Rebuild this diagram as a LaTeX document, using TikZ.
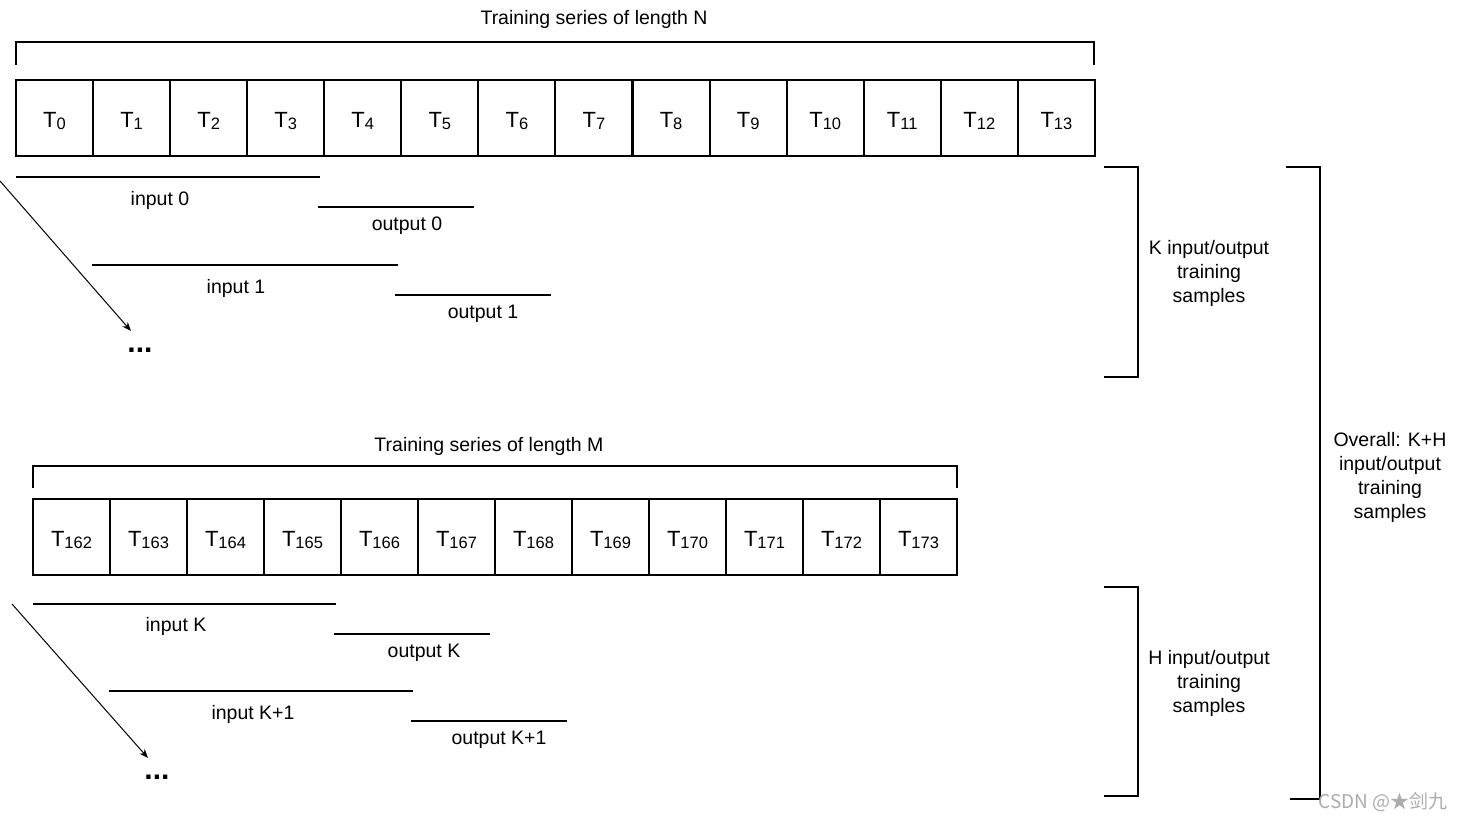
\documentclass[tikz,border=0pt]{standalone}
\usepackage{fontspec}
\setmainfont{Liberation Sans}
\newfontfamily\cjkfont{Noto Sans CJK SC}
\usetikzlibrary{arrows.meta}
\newcommand{\tlab}[1]{{\fontsize{22}{22}\selectfont T\raisebox{-1.5pt}{\fontsize{16.5}{16.5}\selectfont #1}}}
\begin{document}
\begin{tikzpicture}[x=1pt,y=-1pt,
  cell/.style={draw,line width=2pt,minimum width=77pt,minimum height=76pt,inner sep=0pt,outer sep=0pt,text height=21pt,text depth=1.5pt,anchor=north west},
  bar/.style={line width=2pt},
  brk/.style={line width=2pt},
  lab/.style={font=\fontsize{19.5}{23.8}\selectfont,inner sep=0pt,align=center},
  dots/.style={font=\fontsize{30}{30}\selectfont\bfseries,inner sep=0pt},
  arr/.style={line width=1pt,-{Stealth[length=9pt,width=7pt]}}]
\useasboundingbox (0,0) rectangle (1464,821);
% top series
\foreach \i in {0,...,13}{
  \node[cell] (a\i) at ({16+77.07*\i},80) {\tlab{\i}};
}
\node[lab] (titleN) at (594,19.5) {Training series of length N};
\draw[brk] (16,65) -- (16,42) -- (1094,42) -- (1094,65);
% samples top
\draw[bar] (16,177) -- (320,177);
\node[lab] (in0) at (160,200.5) {input 0};
\draw[bar] (318,207) -- (474,207);
\node[lab] (out0) at (407,225.5) {output 0};
\draw[bar] (92,265) -- (398,265);
\node[lab] (in1) at (236,288.5) {input 1};
\draw[bar] (395,295) -- (551,295);
\node[lab] (out1) at (483,313.5) {output 1};
\coordinate (s1) at (0,181);
\coordinate (e1) at (131,331);
\draw[arr] (s1) -- (e1);
\node[dots] (d1) at (140,350) {...};
% bottom series
\foreach \j [count=\k from 0] in {162,...,173}{
  \node[cell] (b\k) at ({33+77.0*\k},499) {\tlab{\j}};
}
\node[lab] (titleM) at (489,446.5) {Training series of length M};
\draw[brk] (33,488) -- (33,466) -- (957,466) -- (957,488);
\draw[bar] (33,604) -- (336,604);
\node[lab] (inK) at (176,626.5) {input K};
\draw[bar] (334,634) -- (490,634);
\node[lab] (outK) at (424,652.5) {output K};
\draw[bar] (109,691) -- (413,691);
\node[lab] (inK1) at (253,714.5) {input K+1};
\draw[bar] (411,721) -- (567,721);
\node[lab] (outK1) at (499,739.5) {output K+1};
\coordinate (s2) at (12,604);
\coordinate (e2) at (148,758);
\draw[arr] (s2) -- (e2);
\node[dots] (d2) at (157,777) {...};
% right brackets
\draw[brk] (1104,167) -- (1138,167) -- (1138,377) -- (1104,377);
\node[lab] (kl) at (1209,273.5) {K input/output\\training\\samples};
\draw[brk] (1104,587) -- (1138,587) -- (1138,796) -- (1104,796);
\node[lab] (hl) at (1209,683.5) {H input/output\\training\\samples};
\draw[brk] (1286,167) -- (1320,167) -- (1320,799) -- (1290,799);
\node[lab] (ol) at (1390,477.5) {Overall: K+H\\input/output\\training\\samples};
\node[inner sep=0pt,text=gray!65,font=\cjkfont\fontsize{19}{19}\selectfont] (wm) at (1383,802) {CSDN @★剑九};
\end{tikzpicture}
\end{document}
